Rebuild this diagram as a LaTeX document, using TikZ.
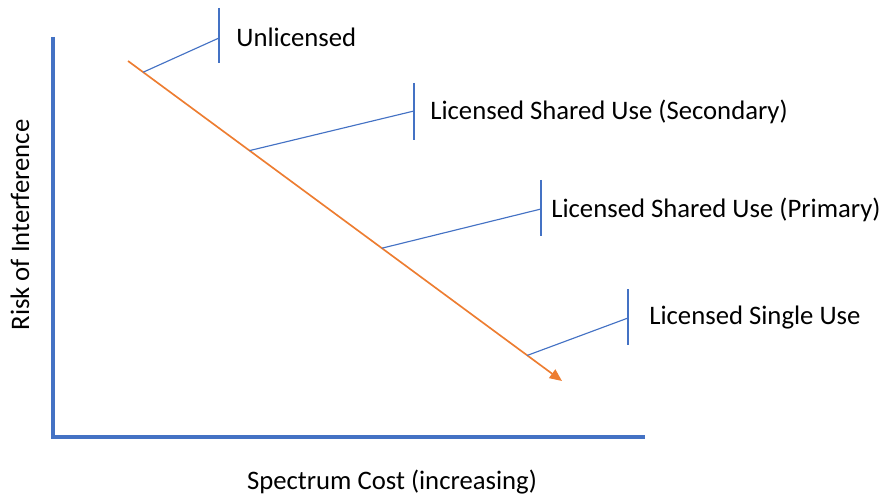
\documentclass[tikz,border=0pt]{standalone}
\usepackage{fontspec}
\setmainfont{Carlito}
\usetikzlibrary{arrows.meta}
\definecolor{axisblue}{RGB}{68,114,196}
\definecolor{trendorange}{RGB}{237,125,49}
\tikzset{
    axisline/.style={axisblue, line width=1.8pt},
    leader/.style={axisblue, line width=0.65pt},
    tag/.style={anchor=west, inner sep=0pt, font=\fontsize{15.2}{18}\selectfont}
}
\begin{document}
\begin{tikzpicture}[x=0.02cm, y=-0.02cm]
        \useasboundingbox (0,0) rectangle (884,496);

        \draw[axisline] (53,37) -- (53,437) -- (645,437);
        \node[tag, anchor=center, rotate=90] (riskLabel) at (20,225) {Risk of Interference};
        \node[tag, anchor=center] (costLabel) at (392,482) {Spectrum Cost (increasing)};

        \draw[trendorange, line width=0.95pt, -{Triangle[length=7pt, width=6pt]}]
            (128,61) -- (562,381)
            coordinate[pos=0.035] (onA)
            coordinate[pos=0.28] (onB)
            coordinate[pos=0.585] (onC)
            coordinate[pos=0.92] (onD);

        \draw[leader] (219,8) -- (219,63);
        \draw[leader] (414,83) -- (414,140);
        \draw[leader] (541,180) -- (541,236);
        \draw[leader] (628,289) -- (628,345);

        \coordinate (barA) at (219,38);
        \coordinate (barB) at (414,111);
        \coordinate (barC) at (541,209);
        \coordinate (barD) at (628,318);

        \draw[leader] (onA) -- (barA);
        \draw[leader] (onB) -- (barB);
        \draw[leader] (onC) -- (barC);
        \draw[leader] (onD) -- (barD);

        \node[tag] (unlicensed) at (236,37) {Unlicensed};
        \node[tag] (secondary) at (430,112) {Licensed Shared Use (Secondary)};
        \node[tag] (primary) at (551,210) {Licensed Shared Use (Primary)};
        \node[tag] (single) at (649,318) {Licensed Single Use};

    \end{tikzpicture}
\end{document}
